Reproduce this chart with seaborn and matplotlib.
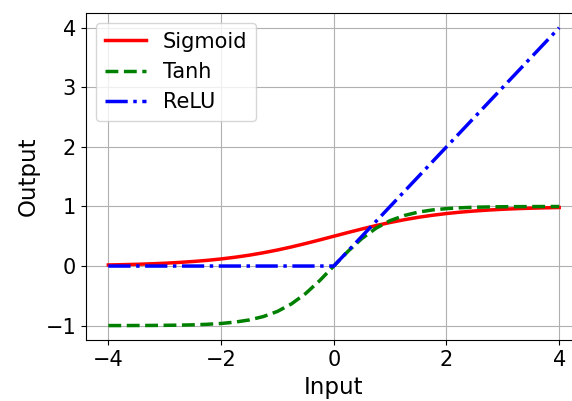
import matplotlib
matplotlib.use("Agg")
import matplotlib.pyplot as plt
import seaborn as sns


# ─────────────────────────────────────────────
# Data
# ─────────────────────────────────────────────
x_input = [-4.0, -3.75, -3.5, -3.25, -3.0, -2.75, -2.5, -2.25, -2.0, -1.75, -1.5,
           -1.25, -1.0, -0.75, -0.5, -0.25, 0.0, 0.25, 0.5, 0.75, 1.0, 1.25,
           1.5, 1.75, 2.0, 2.25, 2.5, 2.75, 3.0, 3.25, 3.5, 3.75, 4.0]

sigmoid_out = [0.018, 0.023, 0.029, 0.037, 0.047, 0.060, 0.076, 0.095, 0.119, 0.148, 0.182,
               0.223, 0.269, 0.321, 0.378, 0.438, 0.500, 0.562, 0.622, 0.679, 0.731, 0.777,
               0.818, 0.852, 0.881, 0.905, 0.924, 0.940, 0.953, 0.963, 0.971, 0.977, 0.982]

tanh_out = [-0.999, -0.999, -0.998, -0.997, -0.995, -0.992, -0.987, -0.978, -0.964, -0.941, -0.905,
            -0.848, -0.762, -0.635, -0.462, -0.245, 0.000, 0.245, 0.462, 0.635, 0.762, 0.848,
            0.905, 0.941, 0.964, 0.978, 0.987, 0.992, 0.995, 0.997, 0.998, 0.999, 0.999]

relu_out = [0.0, 0.0, 0.0, 0.0, 0.0, 0.0, 0.0, 0.0, 0.0, 0.0, 0.0,
            0.0, 0.0, 0.0, 0.0, 0.0, 0.0, 0.25, 0.5, 0.75, 1.0, 1.25,
            1.5, 1.75, 2.0, 2.25, 2.5, 2.75, 3.0, 3.25, 3.5, 3.75, 4.0]

series_names = ["Sigmoid", "Tanh", "ReLU"]

# ─────────────────────────────────────────────
# Figure
# ─────────────────────────────────────────────
fig = plt.figure(figsize=(5.72, 4.01), dpi=100)
# right edge deliberately past the canvas: the reference is cropped there
ax = fig.add_axes([0.150, 0.151, 0.867, 0.817])

styles = [
    (sigmoid_out, "red", "-"),
    (tanh_out, "green", "--"),
    (relu_out, "blue", "-."),
]
for name, (vals, color, ls) in zip(series_names, styles):
    sns.lineplot(x=x_input, y=vals, ax=ax, color=color, linestyle=ls,
                 linewidth=2.5, label=name)

ax.set_xlabel("Input", fontsize=16.5)
ax.set_ylabel("Output", fontsize=16.5)
ax.tick_params(labelsize=15)
ax.set_xticks([-4, -2, 0, 2, 4])
ax.set_yticks([-1, 0, 1, 2, 3, 4])
ax.grid(True)
ax.legend(loc="upper left", fontsize=15)

fig.savefig("out.png", dpi=100)
